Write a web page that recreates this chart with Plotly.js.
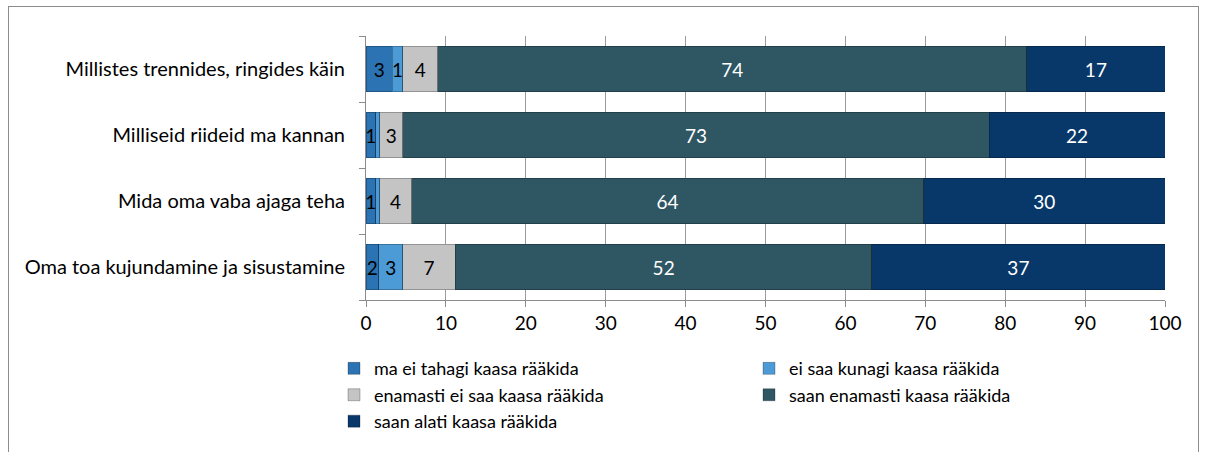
<!DOCTYPE html>
<html>
<head>
    <title>Kaasa rääkimine</title>
    <script src="https://cdn.plot.ly/plotly-3.0.1.min.js"></script>
    <style>
        body { margin: 0; background: white; }
        #frame {
            position: absolute; left: 8px; top: 6px;
            width: 1189px; height: 470px;
            border: 1px solid #8c8c8c;
        }
        #chart { position: absolute; left: 0; top: 0; width: 1207px; height: 452px; }
    </style>
</head>
<body>
    <div id="frame"></div>
    <div id="chart"></div>

    <script>
        // categories, bottom to top as Plotly draws them
        const categories = [
            'Oma toa kujundamine ja sisustamine',
            'Mida oma vaba ajaga teha',
            'Milliseid riideid ma kannan',
            'Millistes trennides, ringides käin'
        ];
        const seriesNames = [
            'ma ei tahagi kaasa rääkida',
            'ei saa kunagi kaasa rääkida',
            'enamasti ei saa kaasa rääkida',
            'saan enamasti kaasa rääkida',
            'saan alati kaasa rääkida'
        ];
        const maEiTahagi      = [1.6, 1.2, 1.2, 3.3];
        const eiSaaKunagi     = [3.0, 0.5, 0.5, 1.3];
        const enamastiEiSaa   = [6.6, 4.0, 2.9, 4.4];
        const saanEnamasti    = [52.1, 64.1, 73.4, 73.7];
        const saanAlati       = [36.7, 30.2, 22.0, 17.3];
        const xTicks = [0, 10, 20, 30, 40, 50, 60, 70, 80, 90, 100];

        const seriesValues = [maEiTahagi, eiSaaKunagi, enamastiEiSaa, saanEnamasti, saanAlati];
        const colors = ['#2b73b3', '#4d9bd6', '#c4c4c4', '#2f5663', '#08386a'];
        const textColors = ['black', 'black', 'black', 'white', 'white'];

        const traces = seriesValues.map((vals, i) => ({
            type: 'bar',
            orientation: 'h',
            name: seriesNames[i],
            y: categories,
            x: vals,
            text: vals.map(v => v < 1 ? '' : String(Math.round(v))),
            textposition: 'inside',
            insidetextanchor: 'middle',
            textangle: 0,
            constraintext: 'none',
            textfont: {size: 19, color: textColors[i], family: 'Lato, sans-serif'},
            hoverinfo: 'none',
            marker: {color: colors[i], line: {color: 'rgba(0,0,0,0.25)', width: 1}}
        }));

        // invisible trace so the boundary tick axis is drawn
        traces.push({
            type: 'scatter', x: [0], y: [0], yaxis: 'y2',
            mode: 'markers', marker: {opacity: 0}, showlegend: false, hoverinfo: 'none'
        });

        Plotly.newPlot('chart', traces, {
            width: 1207,
            height: 452,
            barmode: 'stack',
            bargap: 0.31,
            paper_bgcolor: 'rgba(0,0,0,0)',
            plot_bgcolor: 'white',
            margin: {l: 366, r: 42, t: 36, b: 150},
            font: {family: 'Lato, sans-serif', size: 19, color: 'black'},
            xaxis: {
                range: [0, 100],
                tickvals: xTicks,
                showgrid: true,
                gridcolor: '#9a9a9a',
                gridwidth: 1,
                zeroline: false,
                showline: true,
                linecolor: '#8c8c8c',
                ticks: 'outside',
                ticklen: 6,
                tickcolor: '#8c8c8c',
                tickfont: {size: 19},
                fixedrange: true
            },
            yaxis: {
                categoryorder: 'array',
                categoryarray: categories,
                showline: true,
                linecolor: '#8c8c8c',
                ticks: '',
                ticklabelstandoff: 16,
                tickfont: {size: 20},
                fixedrange: true
            },
            yaxis2: {
                overlaying: 'y',
                range: [-0.5, 3.5],
                tickvals: [-0.5, 0.5, 1.5, 2.5, 3.5],
                ticks: 'outside',
                ticklen: 6,
                tickcolor: '#8c8c8c',
                showticklabels: false,
                showgrid: false,
                zeroline: false,
                side: 'left',
                fixedrange: true
            },
            showlegend: true,
            legend: {
                orientation: 'h',
                x: -32 / 799,
                xanchor: 'left',
                y: -0.19,
                yanchor: 'top',
                entrywidth: 370,
                traceorder: 'normal',
                itemwidth: 30,
                font: {size: 18},
                tracegroupgap: 0
            }
        }, {displayModeBar: false, staticPlot: true});
    </script>
</body>
</html>
